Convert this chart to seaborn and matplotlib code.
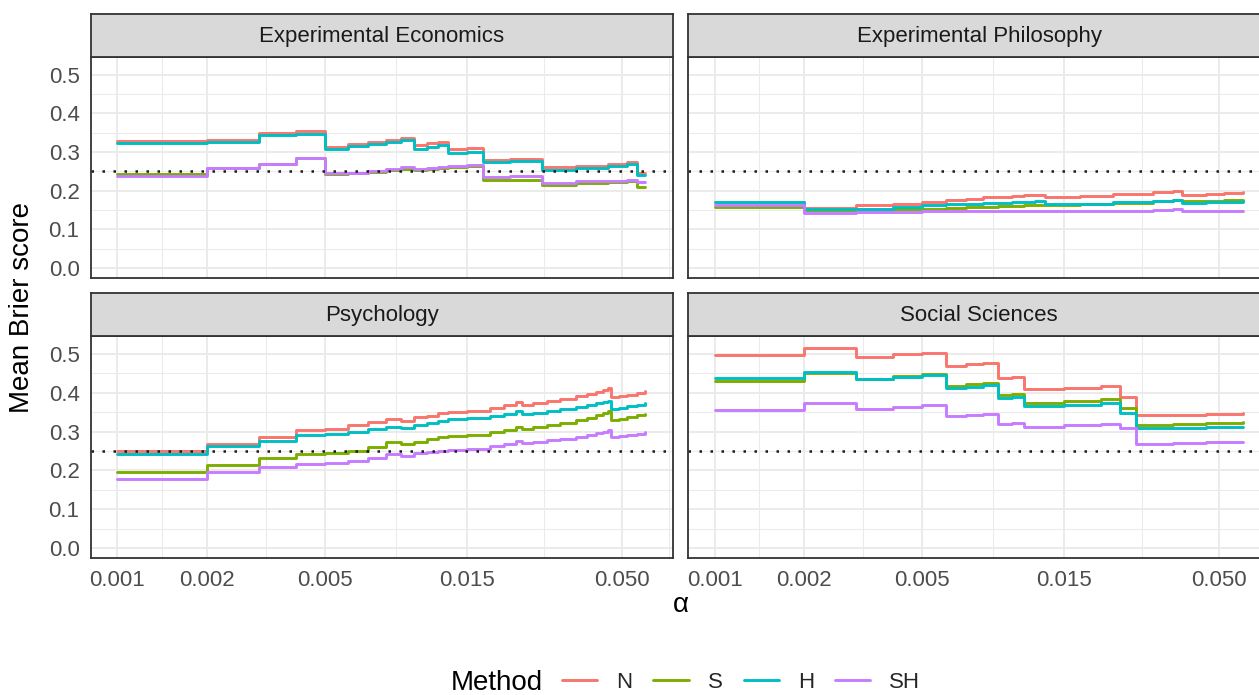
import matplotlib
matplotlib.use("Agg")
import matplotlib.pyplot as plt
import pandas as pd
import seaborn as sns
from matplotlib.lines import Line2D
from matplotlib.ticker import NullFormatter

# ---------------- data ----------------
fields = ["Experimental Economics", "Experimental Philosophy", "Psychology", "Social Sciences"]
methods = ["N", "S", "H", "SH"]
colors = ["#F8766D", "#7CAE00", "#00BFC4", "#C77CFF"]

x_major = [0.001, 0.002, 0.005, 0.015, 0.050]
x_major_labels = ["0.001", "0.002", "0.005", "0.015", "0.050"]
x_minor = [0.00141, 0.00316, 0.00866, 0.0274, 0.0718]
y_major = [0.0, 0.1, 0.2, 0.3, 0.4, 0.5]
y_major_labels = ["0.0", "0.1", "0.2", "0.3", "0.4", "0.5"]
y_minor = [0.05, 0.15, 0.25, 0.35, 0.45]
reference_line = 0.25

alpha_ee = [0.001, 0.002, 0.003, 0.004, 0.005, 0.006, 0.007, 0.008, 0.009, 0.010, 0.011,
            0.012, 0.013, 0.015, 0.017, 0.021, 0.027, 0.035, 0.045, 0.052, 0.056, 0.060]
ee_N = [0.328, 0.332, 0.350, 0.354, 0.312, 0.320, 0.326, 0.331, 0.335, 0.318, 0.322,
        0.325, 0.307, 0.310, 0.280, 0.282, 0.260, 0.265, 0.270, 0.273, 0.245, 0.245]
ee_S = [0.242, 0.258, 0.269, 0.284, 0.243, 0.245, 0.249, 0.253, 0.257, 0.253, 0.255,
        0.258, 0.261, 0.263, 0.227, 0.229, 0.216, 0.219, 0.222, 0.225, 0.210, 0.210]
ee_H = [0.322, 0.326, 0.343, 0.346, 0.308, 0.315, 0.320, 0.325, 0.330, 0.309, 0.314,
        0.317, 0.298, 0.300, 0.273, 0.276, 0.254, 0.259, 0.264, 0.268, 0.241, 0.241]
ee_SH = [0.238, 0.258, 0.269, 0.284, 0.2455, 0.247, 0.2515, 0.256, 0.260, 0.256, 0.258,
         0.261, 0.264, 0.266, 0.235, 0.238, 0.220, 0.224, 0.226, 0.228, 0.222, 0.222]

alpha_ep = [0.001, 0.002, 0.003, 0.004, 0.005, 0.006, 0.007, 0.008, 0.009, 0.010, 0.011,
            0.012, 0.013, 0.017, 0.022, 0.030, 0.035, 0.0375, 0.045, 0.052, 0.060]
ep_N = [0.171, 0.156, 0.163, 0.167, 0.1705, 0.175, 0.179, 0.183, 0.185, 0.187, 0.188,
        0.190, 0.184, 0.187, 0.191, 0.197, 0.200, 0.190, 0.192, 0.194, 0.196]
ep_S = [0.158, 0.150, 0.150, 0.152, 0.1535, 0.155, 0.158, 0.159, 0.160, 0.161, 0.162,
        0.163, 0.163, 0.166, 0.169, 0.173, 0.177, 0.173, 0.174, 0.176, 0.177]
ep_H = [0.1705, 0.152, 0.153, 0.159, 0.162, 0.1645, 0.167, 0.168, 0.169, 0.170, 0.171,
        0.173, 0.1645, 0.167, 0.170, 0.173, 0.1755, 0.169, 0.170, 0.172, 0.173]
ep_SH = [0.163, 0.143, 0.145, 0.145, 0.1466, 0.1466, 0.147, 0.147, 0.148, 0.148, 0.149,
         0.149, 0.147, 0.148, 0.149, 0.150, 0.152, 0.148, 0.148, 0.149, 0.149]

alpha_ps = [0.001, 0.002, 0.003, 0.004, 0.005, 0.006, 0.007, 0.008, 0.009, 0.010, 0.011,
            0.012, 0.013, 0.015, 0.018, 0.020, 0.022, 0.023, 0.025, 0.028, 0.031, 0.035,
            0.038, 0.041, 0.043, 0.045, 0.046, 0.049, 0.052, 0.056, 0.060]
ps_N = [0.249, 0.268, 0.287, 0.303, 0.306, 0.316, 0.324, 0.332, 0.328, 0.337, 0.341,
        0.347, 0.350, 0.354, 0.362, 0.368, 0.376, 0.369, 0.373, 0.380, 0.385, 0.392,
        0.398, 0.403, 0.407, 0.411, 0.388, 0.391, 0.395, 0.400, 0.405]
ps_S = [0.195, 0.214, 0.231, 0.242, 0.244, 0.251, 0.260, 0.273, 0.268, 0.274, 0.280,
        0.286, 0.289, 0.291, 0.298, 0.304, 0.312, 0.306, 0.311, 0.318, 0.323, 0.330,
        0.336, 0.342, 0.347, 0.352, 0.330, 0.333, 0.337, 0.342, 0.346]
ps_H = [0.243, 0.262, 0.277, 0.290, 0.293, 0.300, 0.307, 0.313, 0.310, 0.317, 0.322,
        0.328, 0.332, 0.334, 0.341, 0.346, 0.352, 0.345, 0.348, 0.353, 0.358, 0.364,
        0.369, 0.373, 0.377, 0.380, 0.358, 0.361, 0.365, 0.369, 0.373]
ps_SH = [0.179, 0.195, 0.210, 0.217, 0.219, 0.225, 0.231, 0.243, 0.238, 0.244, 0.247,
         0.251, 0.253, 0.256, 0.263, 0.268, 0.277, 0.270, 0.273, 0.278, 0.282, 0.287,
         0.292, 0.296, 0.300, 0.303, 0.286, 0.288, 0.291, 0.295, 0.298]

alpha_ss = [0.001, 0.002, 0.003, 0.004, 0.005, 0.006, 0.007, 0.008, 0.009, 0.010, 0.011,
            0.015, 0.020, 0.0232, 0.0262, 0.035, 0.045, 0.060]
ss_N = [0.496, 0.515, 0.491, 0.499, 0.503, 0.470, 0.473, 0.476, 0.437, 0.440, 0.409,
        0.412, 0.417, 0.388, 0.342, 0.344, 0.346, 0.347]
ss_S = [0.4305, 0.451, 0.4365, 0.443, 0.449, 0.418, 0.423, 0.425, 0.3945, 0.397, 0.373,
        0.378, 0.384, 0.362, 0.317, 0.320, 0.323, 0.326]
ss_H = [0.439, 0.4545, 0.435, 0.441, 0.446, 0.412, 0.416, 0.420, 0.386, 0.388, 0.366,
        0.369, 0.373, 0.349, 0.309, 0.310, 0.311, 0.312]
ss_SH = [0.356, 0.373, 0.358, 0.363, 0.368, 0.340, 0.343, 0.346, 0.320, 0.322, 0.313,
         0.316, 0.320, 0.309, 0.268, 0.270, 0.272, 0.2735]

panel_data = [
    (fields[0], alpha_ee, [ee_N, ee_S, ee_H, ee_SH]),
    (fields[1], alpha_ep, [ep_N, ep_S, ep_H, ep_SH]),
    (fields[2], alpha_ps, [ps_N, ps_S, ps_H, ps_SH]),
    (fields[3], alpha_ss, [ss_N, ss_S, ss_H, ss_SH]),
]

records = []
for field, alphas, series in panel_data:
    for m, vals in zip(methods, series):
        for a, v in zip(alphas, vals):
            records.append({"field": field, "alpha": a, "brier": v, "Method": m})
df = pd.DataFrame.from_records(records)

# ---------------- style ----------------
sns.set_theme(style="white")
plt.rcParams["font.family"] = ["Liberation Sans", "DejaVu Sans"]

W, H = 1259, 695
fig = plt.figure(figsize=(W / 100, H / 100), dpi=100)
fig.patch.set_facecolor("white")


def rect(x0, y0, x1, y1):
    return [x0 / W, 1 - y1 / H, (x1 - x0) / W, (y1 - y0) / H]


col_x = [(91.0, 672.7), (688.2, 1270.0)]
row_y = [((14.0, 56.7), (56.7, 278.3)), ((293.0, 336.0), (336.0, 558.3))]

BORDER = "#333333"
GRID = "#EBEBEB"

for i, (field, _, _) in enumerate(panel_data):
    r, c = divmod(i, 2)
    (sy0, sy1), (py0, py1) = row_y[r]
    x0, x1 = col_x[c]
    ax = fig.add_axes(rect(x0, py0, x1, py1))
    sub = df[df["field"] == field]
    sns.lineplot(data=sub, x="alpha", y="brier", hue="Method", hue_order=methods,
                 palette=colors, drawstyle="steps-post", linewidth=2.1,
                 estimator=None, legend=False, ax=ax, zorder=3)
    ax.axhline(reference_line, color="#1a1a1a", lw=1.8, linestyle=(0, (1, 3.4)), zorder=4)
    ax.set_xscale("log")
    ax.set_xlim(0.000815, 0.0741)
    ax.set_ylim(-0.026, 0.546)
    ax.set_xticks(x_major)
    ax.set_xticklabels(x_major_labels)
    ax.set_xticks(x_minor, minor=True)
    ax.xaxis.set_minor_formatter(NullFormatter())
    ax.set_yticks(y_major)
    ax.set_yticklabels(y_major_labels)
    ax.set_yticks(y_minor, minor=True)
    ax.grid(which="major", color=GRID, lw=1.4)
    ax.grid(which="minor", color=GRID, lw=0.75)
    ax.set_axisbelow(True)
    ax.set_xlabel("")
    ax.set_ylabel("")
    ax.set_facecolor("white")
    for s in ax.spines.values():
        s.set_color(BORDER)
        s.set_linewidth(1.3)
        s.set_visible(True)
        s.set_zorder(5)
    ax.tick_params(which="minor", length=0)
    ax.tick_params(which="major", length=4.2, width=1.3, color=BORDER,
                   labelcolor="#4D4D4D", labelsize=16, pad=4)
    if r == 0:
        ax.tick_params(axis="x", which="both", bottom=False, labelbottom=False)
    if c == 1:
        ax.tick_params(axis="y", which="both", left=False, labelleft=False)

    sax = fig.add_axes(rect(x0, sy0, x1, sy1))
    sax.set_facecolor("#D9D9D9")
    sax.set_xticks([])
    sax.set_yticks([])
    for s in sax.spines.values():
        s.set_color(BORDER)
        s.set_linewidth(1.3)
    sax.text(0.5, 0.47, field, ha="center", va="center", fontsize=16,
             color="#1A1A1A", transform=sax.transAxes)

# axis titles
fig.text(22 / W, 1 - 307.5 / H, "Mean Brier score", rotation=90, ha="center",
         va="center", fontsize=20, color="black")
fig.text(681 / W, 1 - 612 / H, "α", ha="center", va="baseline", fontsize=20,
         color="black")

# legend
fig.text(451 / W, 1 - 690 / H, "Method", ha="left", va="baseline", fontsize=20,
         color="black")
handles = [Line2D([0], [0], color=col, lw=2.1) for col in colors]
fig.legend(handles, methods, loc="center left", bbox_to_anchor=(562 / W, 1 - 682.5 / H),
           ncol=4, frameon=False, fontsize=16, handlelength=1.58, handletextpad=0.86,
           columnspacing=0.95, borderpad=0, borderaxespad=0)

fig.savefig("out.png", dpi=100)
